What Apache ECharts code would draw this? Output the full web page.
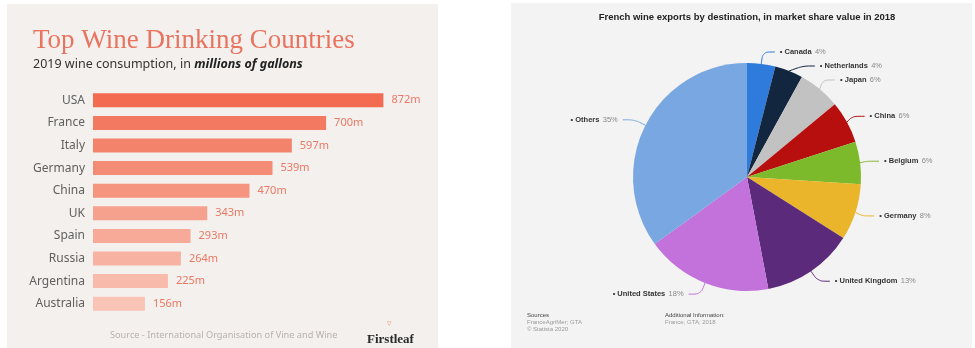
<!DOCTYPE html>
<html>
<head>
<meta charset="utf-8">
<script src="https://cdn.jsdelivr.net/npm/echarts@6/dist/echarts.min.js"></script>
<style>
  html, body { margin: 0; padding: 0; background: #ffffff; }
  #chart { width: 975px; height: 348px; }
</style>
</head>
<body>
<div id="chart"></div>
<script>
// Wine consumption 2019, millions of gallons
const countries = ['USA', 'France', 'Italy', 'Germany', 'China', 'UK', 'Spain', 'Russia', 'Argentina', 'Australia'];
const consumption = [872, 700, 597, 539, 470, 343, 293, 264, 225, 156];

// French wine exports by destination 2018, market share %
const destinations = ['Canada', 'Netherlands', 'Japan', 'China', 'Belgium', 'Germany', 'United Kingdom', 'United States', 'Others'];
const shares = [4, 4, 6, 6, 6, 8, 13, 18, 35];

// Styling
const barShades = ['#f36c52', '#f37a61', '#f4836c', '#f48b75', '#f5957f', '#f6a18d', '#f7aa97', '#f7b2a1', '#f8baaa', '#f9c4b6'];
const sliceColors = ['#2f7bdc', '#13263f', '#c2c2c2', '#b70e0e', '#7cba2b', '#eab42b', '#5b2a7a', '#c272da', '#78a7e2'];

const chart = echarts.init(document.getElementById('chart'), null, { renderer: 'canvas' });

const tiny = '6px "Liberation Sans", Arial, sans-serif';

chart.setOption({
  animation: false,
  backgroundColor: '#ffffff',
  graphic: [
    { type: 'rect', z: -10, shape: { x: 7, y: 4, width: 431, height: 344 }, style: { fill: '#f4f0ed' } },
    { type: 'rect', z: -10, shape: { x: 511, y: 3, width: 461, height: 345 }, style: { fill: '#f3f3f3' } },
    { type: 'text', x: 33, y: 27, style: { text: 'Top Wine Drinking Countries', fill: '#e8735f', font: '27px "Liberation Serif", serif' } },
    { type: 'text', x: 33, y: 58, style: {
        text: '{a|2019 wine consumption, in }{b|millions of gallons}',
        rich: {
          a: { fill: '#333333', font: '12.5px "Noto Sans", sans-serif' },
          b: { fill: '#222222', font: 'italic bold 12.5px "Noto Sans", sans-serif' }
        } } },
    { type: 'text', x: 110, y: 331, style: { text: 'Source - International Organisation of Vine and Wine', fill: '#b8b2af', font: '9.2px "Noto Sans", sans-serif' } },
    { type: 'text', x: 387, y: 319, style: { text: '▿', fill: '#f0a090', font: '9px "DejaVu Sans", sans-serif' } },
    { type: 'text', x: 367, y: 333, style: { text: 'Firstleaf', fill: '#2a2a2a', font: 'bold 13px "Liberation Serif", serif' } },
    { type: 'text', x: 747, y: 12, style: { text: 'French wine exports by destination, in market share value in 2018', fill: '#222222', font: 'bold 9.5px "Liberation Sans", Arial, sans-serif', align: 'center' } },
    { type: 'text', x: 527, y: 312, style: {
        text: '{h|Sources}\n{t|FranceAgriMer; GTA}\n{t|© Statista 2020}',
        rich: {
          h: { fill: '#444444', font: tiny, lineHeight: 7 },
          t: { fill: '#9a9a9a', font: tiny, lineHeight: 7 }
        } } },
    { type: 'text', x: 665, y: 312, style: {
        text: '{h|Additional Information:}\n{t|France; GTA; 2018}',
        rich: {
          h: { fill: '#444444', font: tiny, lineHeight: 7 },
          t: { fill: '#9a9a9a', font: tiny, lineHeight: 7 }
        } } }
  ],
  grid: { left: 93, top: 89, width: 333, height: 226, containLabel: false },
  xAxis: { type: 'value', min: 0, max: 1000, show: false },
  yAxis: {
    type: 'category',
    data: countries,
    inverse: true,
    axisLine: { show: false },
    axisTick: { show: false },
    axisLabel: { color: '#606060', fontSize: 12, margin: 8, fontFamily: '"Noto Sans", sans-serif' }
  },
  series: [
    {
      type: 'bar',
      data: consumption.map((v, i) => ({ value: v, itemStyle: { color: barShades[i] } })),
      barWidth: 14,
      label: {
        show: true,
        position: 'right',
        distance: 8,
        color: '#ea7864',
        fontSize: 11,
        fontFamily: '"Noto Sans", sans-serif',
        formatter: p => p.value + 'm'
      }
    },
    {
      type: 'pie',
      center: [747, 177],
      radius: 114,
      startAngle: 90,
      clockwise: true,
      data: destinations.map((n, i) => ({ name: n, value: shares[i], itemStyle: { color: sliceColors[i] } })),
      label: {
        show: true,
        formatter: p => '{n|• ' + p.name + '} {v|' + p.value + '%}',
        rich: {
          n: { color: '#333333', fontSize: 7.5, fontWeight: 'bold', fontFamily: '"Liberation Sans", Arial, sans-serif' },
          v: { color: '#888888', fontSize: 7.5, fontFamily: '"Liberation Sans", Arial, sans-serif' }
        }
      },
      labelLine: { show: true, length: 12, length2: 12, smooth: 0.3, lineStyle: { width: 1 } }
    }
  ]
});
</script>
</body>
</html>
